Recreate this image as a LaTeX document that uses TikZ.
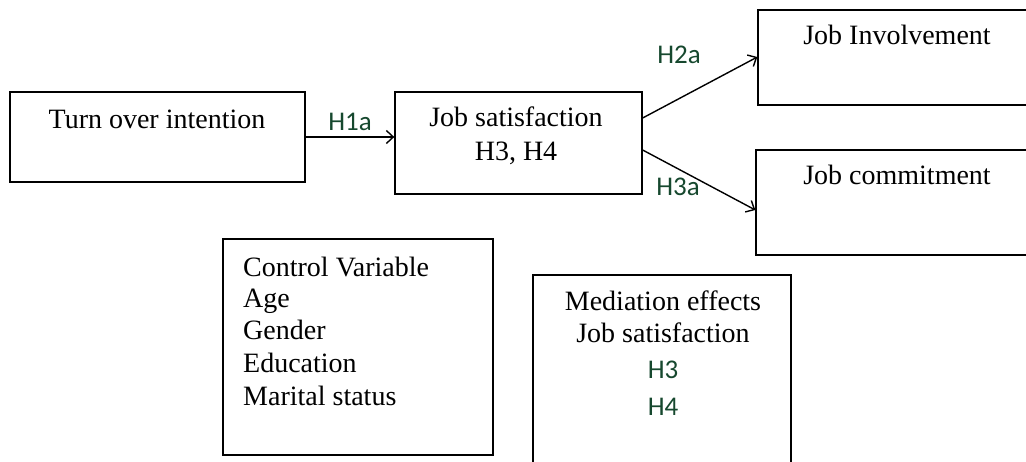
\documentclass[tikz,border=0pt]{standalone}
\usepackage{fontspec}
\setmainfont{Liberation Serif}
\newfontfamily\hfont{Carlito}
\usetikzlibrary{arrows.meta}
\definecolor{hgreen}{RGB}{22,72,46}
\begin{document}
\begin{tikzpicture}[x=1pt,y=-1pt,
  box/.style={draw=black,line width=1.3pt,rectangle,inner sep=0pt},
  txt/.style={font=\fontsize{28}{32}\selectfont,inner sep=0pt,anchor=base},
  hlab/.style={font=\hfont\fontsize{27}{30}\selectfont,text=hgreen,inner sep=0pt,anchor=base},
  conn/.style={line width=1.4pt,-{Straight Barb[length=7pt,width=13pt,line width=1.4pt]}}]
\useasboundingbox (0,0) rectangle (1026,462);
% boxes
\node[box,minimum width=295,minimum height=90] (turn) at (157.5,137) {};
\node[box,minimum width=247,minimum height=102] (sat) at (518.5,143) {};
\node[box,minimum width=280,minimum height=95] (inv) at (898,57.5) {};
\node[box,minimum width=280,minimum height=105] (com) at (896,202.5) {};
\node[box,minimum width=270,minimum height=216] (ctrl) at (358,347) {};
\node[box,minimum width=258,minimum height=200] (med) at (662,375) {};
% texts
\node[txt] (turnT) at (157,129) {Turn over intention};
\node[txt] (satT1) at (516,127) {Job satisfaction};
\node[txt] (satT2) at (516,161) {H3, H4};
\node[txt] (invT) at (897,45) {Job Involvement};
\node[txt] (comT) at (897,185) {Job commitment};
\node[txt,anchor=base west] (c1) at (243,277) {Control Variable};
\node[txt,anchor=base west] (c2) at (243,308) {Age};
\node[txt,anchor=base west] (c3) at (243,340) {Gender};
\node[txt,anchor=base west] (c4) at (243,373) {Education};
\node[txt,anchor=base west] (c5) at (243,406) {Marital status};
\node[txt] (m1) at (663,311) {Mediation effects};
\node[txt] (m2) at (663,343) {Job satisfaction};
\node[hlab] (m3) at (663,379) {H3};
\node[hlab] (m4) at (663,415) {H4};
% connectors
\coordinate (s1) at ([yshift=25]sat.east);
\coordinate (s2) at ([yshift=-7]sat.east);
\coordinate (i1) at ([yshift=0.5]inv.west);
\coordinate (c1w) at ([yshift=-7.5]com.west);
\draw[conn] (turn.east) -- (sat.west |- turn.east);
\draw[conn] (s1) -- (i1);
\draw[conn] (s2) -- (c1w);
% labels
\node[hlab] (h1a) at (350,131) {H1a};
\node[hlab] (h2a) at (679,64) {H2a};
\node[hlab] (h3a) at (678,196) {H3a};
\end{tikzpicture}
\end{document}
